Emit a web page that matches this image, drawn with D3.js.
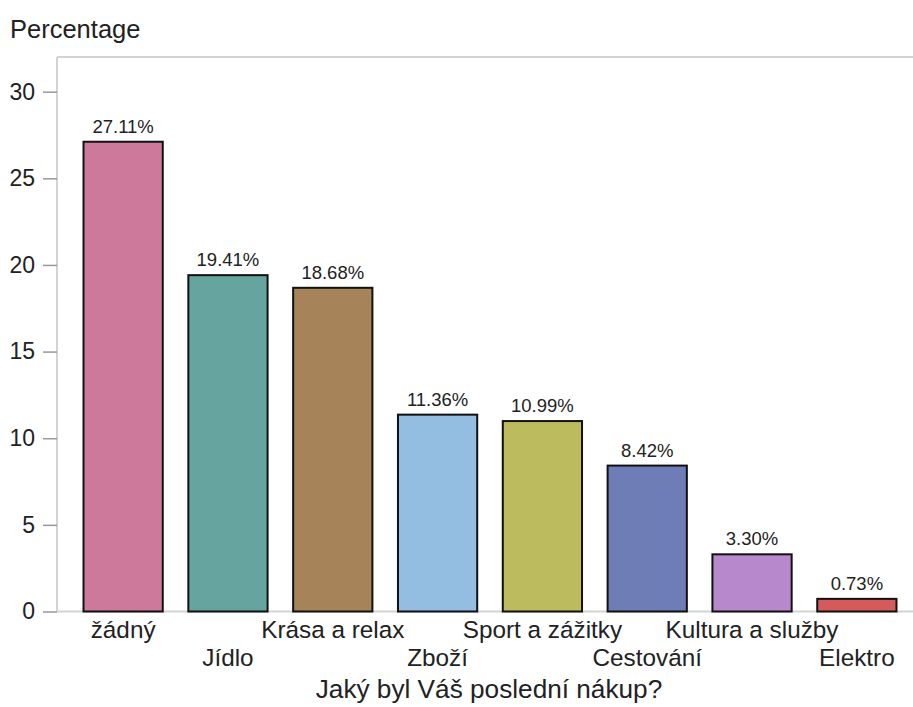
<!DOCTYPE html>
<html>
<head>
<meta charset="utf-8">
<script src="https://cdn.jsdelivr.net/npm/d3@7"></script>
<style>
  html, body { margin: 0; padding: 0; background: #fff; }
  svg { display: block; font-family: "Liberation Sans", Arial, sans-serif; }
</style>
</head>
<body>
<svg id="chart" width="913" height="707"></svg>
<script>
// Answers to "Jaký byl Váš poslední nákup?" (share of respondents, %)
const categories = ["žádný", "Jídlo", "Krása a relax", "Zboží", "Sport a zážitky", "Cestování", "Kultura a služby", "Elektro"];
const values = [27.11, 19.41, 18.68, 11.36, 10.99, 8.42, 3.30, 0.73];
const barColors = ["#cc799c", "#66a59f", "#a7835a", "#94bde2", "#bcbc5e", "#6e7db5", "#b888cc", "#d55b5b"];
const yTicks = [0, 5, 10, 15, 20, 25, 30];

(function drawChart() {
  const svg = d3.select("#chart");
  const plotLeft = 57, plotTop = 57, plotRight = 923, plotBottom = 611.5;
  const frameColor = "#d3d3d3";
  const textColor = "#222";

  const x = d3.scaleBand().domain(categories).range([plotLeft, plotRight])
    .paddingInner(0.244).paddingOuter(0.253);
  const y = d3.scaleLinear().domain([0, 32]).range([plotBottom, plotTop]);

  // frame: top edge
  svg.append("line").attr("x1", plotLeft).attr("x2", 913).attr("y1", plotTop).attr("y2", plotTop)
    .attr("stroke", frameColor).attr("stroke-width", 2);

  // y axis
  const yAxis = svg.append("g").attr("transform", `translate(${plotLeft},0)`)
    .call(d3.axisLeft(y).tickValues(yTicks).tickSize(14).tickPadding(8));
  yAxis.select(".domain").attr("d", `M0,${plotTop}V${plotBottom}`).attr("stroke", frameColor).attr("stroke-width", 2);
  yAxis.selectAll(".tick line").attr("stroke", "#999").attr("stroke-width", 1.5);
  yAxis.selectAll(".tick text").attr("fill", textColor).style("font-size", "23px")
    .style("font-family", "'Liberation Sans', Arial, sans-serif");

  // x axis line
  svg.append("line").attr("x1", plotLeft).attr("x2", 913).attr("y1", plotBottom).attr("y2", plotBottom)
    .attr("stroke", frameColor).attr("stroke-width", 2);

  // bars
  svg.append("g").selectAll("rect").data(categories).join("rect")
    .attr("x", d => x(d))
    .attr("width", x.bandwidth())
    .attr("y", (d, i) => y(values[i]))
    .attr("height", (d, i) => y(0) - y(values[i]))
    .attr("fill", (d, i) => barColors[i])
    .attr("stroke", "#111")
    .attr("stroke-width", 2);

  // value labels
  svg.append("g").selectAll("text").data(categories).join("text")
    .attr("x", d => x(d) + x.bandwidth() / 2)
    .attr("y", (d, i) => y(values[i]) - 9)
    .attr("text-anchor", "middle")
    .attr("fill", textColor)
    .style("font-size", "18.5px")
    .text((d, i) => values[i].toFixed(2) + "%");

  // category labels, alternating between two rows
  svg.append("g").selectAll("text").data(categories).join("text")
    .attr("x", d => x(d) + x.bandwidth() / 2)
    .attr("y", (d, i) => i % 2 === 0 ? 638 : 666)
    .attr("text-anchor", "middle")
    .attr("fill", textColor)
    .style("font-size", "24.3px")
    .text(d => d);

  // axis titles
  svg.append("text").attr("x", 10).attr("y", 38).attr("fill", textColor)
    .style("font-size", "25.5px").text("Percentage");
  svg.append("text").attr("x", 489).attr("y", 698).attr("text-anchor", "middle").attr("fill", textColor)
    .style("font-size", "26.2px").text("Jaký byl Váš poslední nákup?");
})();
</script>
</body>
</html>
